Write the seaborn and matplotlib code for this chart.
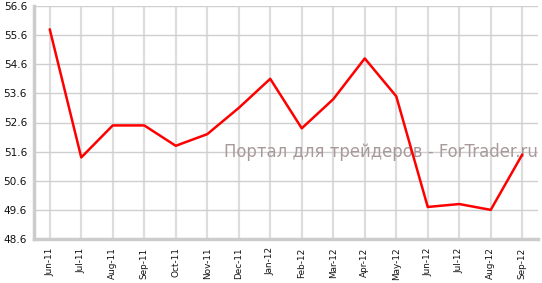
import matplotlib
matplotlib.use("Agg")
import matplotlib.pyplot as plt
import seaborn as sns
import pandas as pd

months = ["Jun-11", "Jul-11", "Aug-11", "Sep-11", "Oct-11", "Nov-11", "Dec-11", "Jan-12",
          "Feb-12", "Mar-12", "Apr-12", "May-12", "Jun-12", "Jul-12", "Aug-12", "Sep-12"]
values = [55.8, 51.4, 52.5, 52.5, 51.8, 52.2, 53.1, 54.1,
          52.4, 53.4, 54.8, 53.5, 49.7, 49.8, 49.6, 51.5]
y_ticks = [48.6, 49.6, 50.6, 51.6, 52.6, 53.6, 54.6, 55.6, 56.6]
watermark = "Портал для трейдеров - ForTrader.ru"

sns.set_style("white")
plt.rcParams["font.family"] = ["DejaVu Sans"]

df = pd.DataFrame({"pos": range(len(months)), "value": values})

fig = plt.figure(figsize=(5.42, 2.83), dpi=100)
ax = fig.add_axes([34 / 542, 1 - 239 / 283, (538 - 34) / 542, (239 - 6) / 283])

ax.text(1.0, (51.42 - y_ticks[0]) / (y_ticks[-1] - y_ticks[0]), watermark,
        transform=ax.transAxes, ha="right", va="baseline", fontsize=11.9,
        color="#a89a9a", zorder=1.5)

sns.lineplot(data=df, x="pos", y="value", ax=ax, color="#ff0000", linewidth=1.8, zorder=3)

ax.set_xlim(-0.5, len(months) - 0.5)
ax.set_ylim(y_ticks[0], y_ticks[-1])
ax.set_xticks(range(len(months)))
ax.set_xticklabels(months, rotation=90, fontsize=6.4, color="#111111")
ax.set_yticks(y_ticks)
ax.set_yticklabels([f"{v:.1f}" for v in y_ticks], fontsize=7.6, color="#111111")
ax.set_xlabel("")
ax.set_ylabel("")

ax.grid(True, axis="y", color="#cfcfcf", linewidth=1.0)
ax.grid(True, axis="x", color="#dddddd", linewidth=1.6)
ax.set_axisbelow(True)
for s in ["top", "right"]:
    ax.spines[s].set_visible(False)
for s in ["left", "bottom"]:
    ax.spines[s].set_color("#cccccc")
    ax.spines[s].set_linewidth(2.5)
ax.tick_params(axis="both", length=3, width=1, color="#bbbbbb", pad=2, direction="out")
ax.tick_params(axis="x", pad=3)

fig.savefig("out.png", dpi=100)
